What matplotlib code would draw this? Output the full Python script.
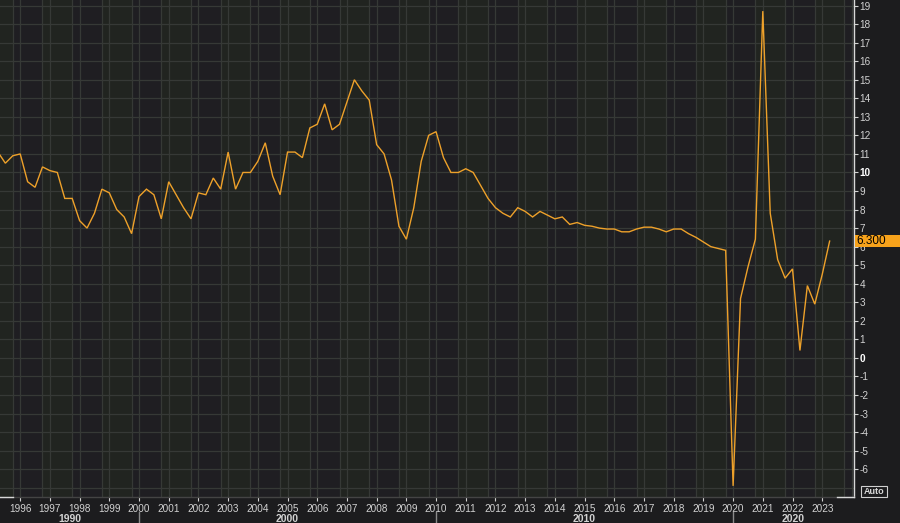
import matplotlib
matplotlib.use('Agg')
import matplotlib.pyplot as plt
from matplotlib.patches import Rectangle
from matplotlib.lines import Line2D
import matplotlib.transforms as mtransforms

# ---------------- data ----------------
start_year = 1995
start_quarter = 2
gdp_yoy = [
    11.1, 10.5, 10.9,                 # 1995 Q2-Q4
    11.0, 9.5, 9.2, 10.3,             # 1996
    10.1, 10.0, 8.6, 8.6,             # 1997
    7.4, 7.0, 7.8, 9.1,               # 1998
    8.9, 8.0, 7.6, 6.7,               # 1999
    8.7, 9.1, 8.8, 7.5,               # 2000
    9.5, 8.8, 8.1, 7.5,               # 2001
    8.9, 8.8, 9.7, 9.1,               # 2002
    11.1, 9.1, 10.0, 10.0,            # 2003
    10.6, 11.6, 9.8, 8.8,             # 2004
    11.1, 11.1, 10.8, 12.4,           # 2005
    12.6, 13.7, 12.3, 12.6,           # 2006
    13.8, 15.0, 14.4, 13.9,           # 2007
    11.5, 11.0, 9.6, 7.1,             # 2008
    6.4, 8.1, 10.6, 12.0,             # 2009
    12.2, 10.8, 10.0, 10.0,           # 2010
    10.2, 10.0, 9.3, 8.6,             # 2011
    8.1, 7.8, 7.6, 8.1,               # 2012
    7.9, 7.6, 7.9, 7.7,               # 2013
    7.5, 7.6, 7.2, 7.3,               # 2014
    7.15, 7.1, 7.0, 6.95,             # 2015
    6.95, 6.8, 6.8, 6.95,             # 2016
    7.05, 7.05, 6.95, 6.8,            # 2017
    6.95, 6.95, 6.7, 6.5,             # 2018
    6.25, 6.0, 5.9, 5.8,              # 2019
    -6.9, 3.2, 4.9, 6.4,              # 2020
    18.7, 7.8, 5.3, 4.3,              # 2021
    4.8, 0.4, 3.9, 2.9,               # 2022
    4.5, 6.3,                         # 2023 Q1-Q2
]
year_ticks = list(range(1996, 2024))
decade_labels = [1990, 2000, 2010, 2020]
y_ticks = list(range(-6, 20))
bold_y_ticks = [0, 10]
last_value_label = "6.300"

# ---------------- style ----------------
W, H = 900, 523
BG = '#1c1c1e'
PLOT_BG = '#1f1e22'
BAND = '#212420'
GRID = '#363936'
LINE = '#eea12a'
TXT = '#d2d2d2'
FONT = ['Liberation Sans', 'DejaVu Sans']
plt.rcParams['font.family'] = FONT

x = [start_year + (start_quarter - 1 + i) / 4 for i in range(len(gdp_yoy))]

fig = plt.figure(figsize=(W / 100, H / 100), dpi=100, facecolor=BG)
plot_right_px, plot_bottom_px = 854, 497
ax = fig.add_axes([0, (H - plot_bottom_px) / H, plot_right_px / W, plot_bottom_px / H])
ax.set_facecolor(PLOT_BG)
xmin, xmax = 1995.32, 2024.07
ymin, ymax = -7.5, 19.3
ax.set_xlim(xmin, xmax)
ax.set_ylim(ymin, ymax)

# alternating bands and grid
for yr in range(1994, 2026):
    if yr % 2 == 1:
        ax.axvspan(yr - 0.25, yr + 0.75, color=BAND, lw=0, zorder=0)
    ax.axvline(yr, color=GRID, lw=0.9, zorder=1)
    ax.axvline(yr - 0.25, color=GRID, lw=0.9, zorder=1)
for v in range(-7, 20):
    ax.axhline(v, color=GRID, lw=0.9, zorder=1)

ax.plot(x, gdp_yoy, color=LINE, lw=1.0, zorder=3, solid_joinstyle='miter')

# spines
for s in ['top', 'left']:
    ax.spines[s].set_visible(False)
ax.spines['right'].set_color('#d8d8d8')
ax.spines['right'].set_linewidth(1.0)
ax.spines['bottom'].set_color('#444444')
ax.spines['bottom'].set_linewidth(1.0)

# y ticks on right
ax.yaxis.tick_right()
ax.set_yticks(y_ticks)
ax.set_yticklabels([str(v) for v in y_ticks])
ax.tick_params(axis='y', which='both', direction='out', length=3, width=0.8,
               colors=TXT, labelsize=7.2, pad=1)
for lbl, v in zip(ax.get_yticklabels(), y_ticks):
    if v in bold_y_ticks:
        lbl.set_fontweight('bold')
        lbl.set_color('#ffffff')

# x ticks
ax.set_xticks(year_ticks)
ax.set_xticklabels([str(y) for y in year_ticks])
ax.tick_params(axis='x', direction='out', length=3, width=0.8, colors=TXT,
               labelsize=7.2, pad=2)

# decade labels
trans = mtransforms.blended_transform_factory(ax.transData, fig.transFigure)
for d in decade_labels:
    lo = max(d, xmin)
    hi = min(d + 10, xmax)
    ax.text((lo + hi) / 2, (H - 519) / H, str(d), transform=trans, ha='center',
            va='center', fontsize=7.5, fontweight='bold', color=TXT, clip_on=False)
    if d > xmin:
        fig.add_artist(Line2D([d, d], [0, (H - 512) / H], transform=trans,
                              color='#8a8a8a', lw=1.0))

# white segments at bottom corners
for x0, x1 in [(0, 13), (837, plot_right_px)]:
    fig.add_artist(Line2D([x0 / W, x1 / W],
                          [(H - plot_bottom_px) / H] * 2, transform=fig.transFigure,
                          color='#d8d8d8', lw=1.0))

# last value box
y_px = plot_bottom_px - (gdp_yoy[-1] - ymin) / (ymax - ymin) * plot_bottom_px
box_h = 12
fig.add_artist(Rectangle((855 / W, (H - y_px - box_h / 2) / H), 45 / W, box_h / H,
                         transform=fig.transFigure, facecolor='#f7a21b',
                         edgecolor='none', zorder=5))
fig.text(856 / W, (H - y_px) / H, last_value_label, ha='left', va='center',
         fontsize=8.5, color='#000000', zorder=6)

# Auto box
fig.add_artist(Rectangle((861 / W, (H - 497) / H), 26 / W, 11 / H,
                         transform=fig.transFigure, facecolor='none',
                         edgecolor='#d0d0d0', lw=0.8))
fig.text(874 / W, (H - 491.5) / H, 'Auto', ha='center', va='center',
         fontsize=6.5, fontweight='bold', color='#d8d8d8')

fig.savefig('out.png', dpi=100, facecolor=BG)
